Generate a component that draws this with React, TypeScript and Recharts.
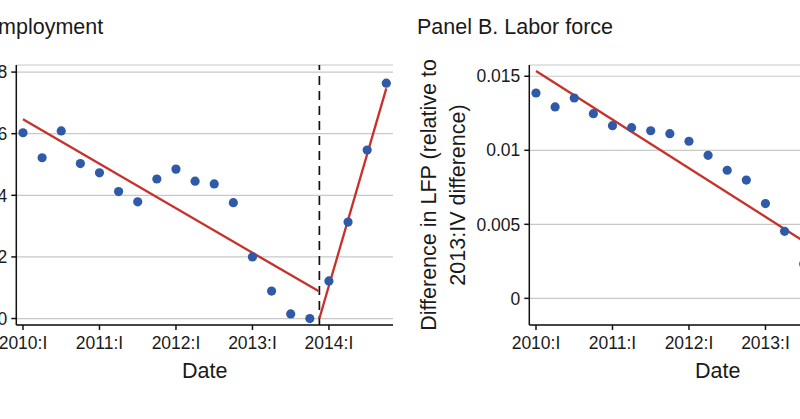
import React from "react";
import {
  ComposedChart,
  Scatter,
  Line,
  XAxis,
  YAxis,
  CartesianGrid,
  ReferenceLine,
  Label,
} from "recharts";

// quarter index 0 = 2010:I
const quarterTicks = [0, 4, 8, 12, 16];
const quarterLabels = ["2010:I", "2011:I", "2012:I", "2013:I", "2014:I"];
const breakQuarter = 15.5;

const employmentValues = [
  6.03, 5.22, 6.09, 5.03, 4.73, 4.12, 3.79, 4.53, 4.85, 4.46, 4.37, 3.76, 2.0,
  0.89, 0.15, 0.0, 1.22, 3.13, 5.47, 7.64,
];
const employmentTrendPre = [
  { x: 0, y: 6.47 },
  { x: 15.45, y: 0.89 },
];
const employmentTrendPost = [
  { x: 15.5, y: 0 },
  { x: 19, y: 7.47 },
];
const employmentTicks = [0, 2, 4, 6, 8];

const laborValues = [
  0.01387, 0.01293, 0.01353, 0.01247, 0.01166, 0.01153, 0.01132, 0.01112,
  0.01061, 0.00966, 0.00865, 0.00799, 0.0064, 0.00453, 0.00232,
];
const laborTrendPre = [
  { x: 0, y: 0.01536 },
  { x: 15.5, y: 0.00263 },
];
const laborTicks = [0, 0.005, 0.01, 0.015];

const FONT = "'Liberation Sans', Arial, Helvetica, sans-serif";
const BLUE = "#2f5aa8";
const RED = "#c8302a";
const INK = "#1a1a1a";

const toPoints = (vals: number[]) => vals.map((y, x) => ({ x, y }));

type PanelProps = {
  title: string;
  titleLeft: number;
  points: { x: number; y: number }[];
  trends: { x: number; y: number }[][];
  yTicks: number[];
  yDomain: [number, number];
  yLabel?: string[];
};

function Panel({ title, titleLeft, points, trends, yTicks, yDomain, yLabel }: PanelProps) {
  const width = 518;
  const height = 419;
  const yAxisWidth = 129.3;
  return (
    <div style={{ position: "relative", width, height }}>
      <div
        style={{
          position: "absolute",
          left: titleLeft,
          top: 17,
          fontFamily: FONT,
          fontSize: 21.5,
          lineHeight: "21px",
          color: INK,
          whiteSpace: "nowrap",
        }}
      >
        {title}
      </div>
      <ComposedChart
        width={width}
        height={height}
        margin={{ top: 65, right: 12, bottom: 0, left: 0 }}
      >
        <CartesianGrid vertical={false} stroke="#c8c8c8" strokeWidth={1.2} />
        <XAxis
          type="number"
          dataKey="x"
          domain={[-0.35, 19.35]}
          ticks={quarterTicks}
          tickFormatter={(v: number) => quarterLabels[quarterTicks.indexOf(v)] ?? ""}
          allowDataOverflow
          height={94}
          tickSize={5}
          tickMargin={7}
          stroke="#111"
          strokeWidth={1.5}
          tick={{ fill: INK, fontSize: 17.5, fontFamily: FONT }}
        >
          <Label
            content={(props: any) => {
              const vb = props.viewBox || {};
              return (
                <text
                  x={vb.x + vb.width / 2}
                  y={vb.y + 53}
                  textAnchor="middle"
                  fill={INK}
                  fontSize={21.5}
                  fontFamily={FONT}
                >
                  Date
                </text>
              );
            }}
          />
        </XAxis>
        <YAxis
          type="number"
          dataKey="y"
          domain={yDomain}
          ticks={yTicks}
          allowDataOverflow
          width={yAxisWidth}
          tickSize={5}
          tickMargin={4}
          stroke="#111"
          strokeWidth={1.5}
          tick={{ fill: INK, fontSize: 17.5, fontFamily: FONT }}
        >
          {yLabel && (
            <Label
              content={(props: any) => {
                const vb = props.viewBox || {};
                const cy = vb.y + vb.height / 2;
                const offsets = [36, 65];
                return (
                  <g>
                    {yLabel.map((line, i) => {
                      const x = vb.x + offsets[i];
                      return (
                        <text
                          key={i}
                          x={x}
                          y={cy}
                          transform={`rotate(-90, ${x}, ${cy})`}
                          textAnchor="middle"
                          fill={INK}
                          fontSize={21.5}
                          fontFamily={FONT}
                        >
                          {line}
                        </text>
                      );
                    })}
                  </g>
                );
              }}
            />
          )}
        </YAxis>
        <ReferenceLine
          x={breakQuarter}
          stroke="#111"
          strokeWidth={1.7}
          strokeDasharray="9 6"
        />
        {trends.map((t, i) => (
          <Line
            key={i}
            data={t}
            dataKey="y"
            type="linear"
            stroke={RED}
            strokeWidth={2.3}
            dot={false}
            activeDot={false}
            isAnimationActive={false}
          />
        ))}
        <Scatter
          data={points}
          dataKey="y"
          isAnimationActive={false}
          shape={(p: any) => <circle cx={p.cx} cy={p.cy} r={4.6} fill={BLUE} />}
        />
      </ComposedChart>
    </div>
  );
}

export default function App() {
  return (
    <div
      style={{
        position: "fixed",
        left: 0,
        top: 0,
        width: 800,
        height: 419,
        overflow: "hidden",
        background: "#fff",
      }}
    >
      <div style={{ position: "absolute", left: -113.3, top: 0 }}>
        <Panel
          title="Panel A. Employment"
          titleLeft={11}
          points={toPoints(employmentValues)}
          trends={[employmentTrendPre, employmentTrendPost]}
          yTicks={employmentTicks}
          yDomain={[-0.21, 8.23]}
        />
      </div>
      <div style={{ position: "absolute", left: 400, top: 0 }}>
        <Panel
          title="Panel B. Labor force"
          titleLeft={17}
          points={toPoints(laborValues)}
          trends={[laborTrendPre]}
          yTicks={laborTicks}
          yDomain={[-0.0018, 0.01576]}
          yLabel={["Difference in LFP (relative to", "2013:IV difference)"]}
        />
      </div>
    </div>
  );
}
